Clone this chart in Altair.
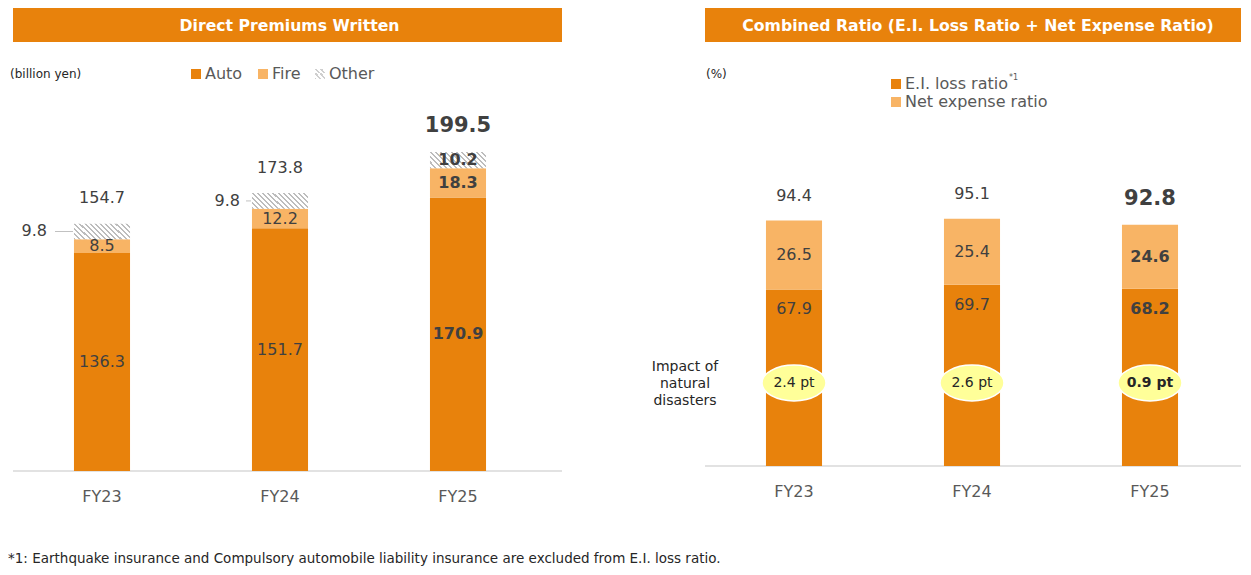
import altair as alt
import pandas as pd

# ---------------- data ----------------
years = ["FY23", "FY24", "FY25"]
auto = [136.3, 151.7, 170.9]
fire = [8.5, 12.2, 18.3]
other = [9.8, 9.8, 10.2]
dpw_total = [154.7, 173.8, 199.5]

ei_loss = [67.9, 69.7, 68.2]
net_expense = [26.5, 25.4, 24.6]
combined = [94.4, 95.1, 92.8]
disaster_impact = ["2.4 pt", "2.6 pt", "0.9 pt"]
is_latest = [False, False, True]

titles = ["Direct Premiums Written",
          "Combined Ratio (E.I. Loss Ratio + Net Expense Ratio)"]
units = ["(billion yen)", "(%)"]
dpw_legend = ["Auto", "Fire", "Other"]
cr_legend = ["E.I. loss ratio", "Net expense ratio"]
footnote = ("*1: Earthquake insurance and Compulsory automobile liability "
            "insurance are excluded from E.I. loss ratio.")
disaster_caption = "Impact of\nnatural\ndisasters"

# ---------------- style ----------------
ORANGE = "#E8820C"
LIGHT = "#F8B465"
YELLOW = "#FFFF99"
FONT = "DejaVu Sans"
TXT = "#404040"
GREY_TXT = "#595959"
AXIS_LINE = "#D9D9D9"

WL, HL = 549, 463
WR, HR = 536, 458


def hatch(ratio, n, color="#BDBDBD", duty=0.4):
    s = (1 + ratio) / (1 + ratio * ratio)
    x2, y2 = s, 1 - ratio * s
    stops = []
    for i in range(n):
        a = i / n
        b = (i + duty) / n
        c = (i + 1) / n
        stops += [alt.GradientStop(offset=round(a, 4), color=color),
                  alt.GradientStop(offset=round(b, 4), color=color),
                  alt.GradientStop(offset=round(b, 4), color="white"),
                  alt.GradientStop(offset=round(min(c, 1), 4), color="white")]
    return alt.LinearGradient(gradient="linear", stops=stops,
                              x1=0, y1=1, x2=round(x2, 4), y2=round(y2, 4))


def xband():
    return alt.X("year:N", sort=years,
                 scale=alt.Scale(range=[0, 534], paddingInner=0.685,
                                 paddingOuter=0.3425),
                 axis=alt.Axis(title=None, domain=False, ticks=False,
                               labelAngle=0, labelFont=FONT, labelFontSize=16,
                               labelColor=GREY_TXT, labelPadding=17,
                               grid=False))


def txt(**kw):
    base = dict(font=FONT, baseline="middle", align="center")
    base.update(kw)
    return base


# ---------------- left panel: Direct Premiums Written ----------------
rows = []
for i, yr in enumerate(years):
    a0, a1 = 0, auto[i]
    f1 = a1 + fire[i]
    o1 = f1 + other[i]
    rows.append(dict(year=yr, seg="Auto", y0=a0, y1=a1, mid=(a0 + a1) / 2,
                     label=f"{auto[i]:.1f}", latest=is_latest[i]))
    rows.append(dict(year=yr, seg="Fire", y0=a1, y1=f1, mid=(a1 + f1) / 2,
                     label=f"{fire[i]:.1f}", latest=is_latest[i]))
    rows.append(dict(year=yr, seg="Other", y0=f1, y1=o1, mid=(f1 + o1) / 2,
                     label=f"{other[i]:.1f}", latest=is_latest[i]))
dfL = pd.DataFrame(rows)
dfLT = pd.DataFrame(dict(year=years, total=dpw_total, latest=is_latest,
                         label=[f"{v:.1f}" for v in dpw_total]))

yL = alt.Scale(domain=[0, HL / 1.6], nice=False, zero=True)
xL = xband()

one = pd.DataFrame({"t": [titles[0]]})
hdrL = alt.Chart(one).mark_rect(color=ORANGE).encode(
    x=alt.value(0), x2=alt.value(WL), y=alt.value(0), y2=alt.value(34))
hdrLt = alt.Chart(one).mark_text(**txt(fontSize=15.7, fontWeight="bold",
                                       color="white")).encode(
    x=alt.value(276.5), y=alt.value(18), text="t:N")
unitL = alt.Chart(pd.DataFrame({"t": [units[0]]})).mark_text(
    **txt(fontSize=12, color="#262626", align="left")).encode(
    x=alt.value(-3), y=alt.value(66), text="t:N")
axL = alt.Chart(one).mark_rule(color=AXIS_LINE, strokeWidth=1.5).encode(
    x=alt.value(0), x2=alt.value(WL), y=alt.value(HL))

leg_x = [183, 250, 307]
leg_fill = [ORANGE, LIGHT, hatch(1.0, 4, "#CFCFCF")]
legL = []
for name, lx, lf in zip(dpw_legend, leg_x, leg_fill):
    d = pd.DataFrame({"t": [name]})
    legL.append(alt.Chart(d).mark_square(size=100, fill=lf, opacity=1,
                                         strokeWidth=0).encode(
        x=alt.value(lx), y=alt.value(66)))
    legL.append(alt.Chart(d).mark_text(**txt(fontSize=16, color=GREY_TXT,
                                             align="left")).encode(
        x=alt.value(lx + 9), y=alt.value(66), text="t:N"))

baseL = alt.Chart(dfL)
autoBar = baseL.transform_filter("datum.seg == 'Auto'").mark_bar(
    fill=ORANGE).encode(x=xL, y=alt.Y("y0:Q", scale=yL, axis=None), y2="y1:Q")
fireBar = baseL.transform_filter("datum.seg == 'Fire'").mark_bar(
    fill=LIGHT).encode(x=xL, y=alt.Y("y0:Q", scale=yL, axis=None), y2="y1:Q")
otherBar = baseL.transform_filter("datum.seg == 'Other'").mark_bar(
    fill=hatch(16 / 56, 14)).encode(
    x=xL, y=alt.Y("y0:Q", scale=yL, axis=None), y2="y1:Q")

inLab = baseL.transform_filter(
    "(datum.seg != 'Other') && !datum.latest").mark_text(
    **txt(fontSize=16, color=TXT)).encode(
    x=xL, y=alt.Y("mid:Q", scale=yL, axis=None), text="label:N")
inLabB = baseL.transform_filter("datum.latest").mark_text(
    **txt(fontSize=16, color=TXT, fontWeight="bold")).encode(
    x=xL, y=alt.Y("mid:Q", scale=yL, axis=None), text="label:N")
oth23 = baseL.transform_filter(
    "datum.seg == 'Other' && datum.year == 'FY23'").mark_text(
    **txt(fontSize=16, color=TXT, align="right", dx=-55)).encode(
    x=xL, y=alt.Y("mid:Q", scale=yL, axis=None), text="label:N")
oth24 = baseL.transform_filter(
    "datum.seg == 'Other' && datum.year == 'FY24'").mark_text(
    **txt(fontSize=16, color=TXT, align="right", dx=-40)).encode(
    x=xL, y=alt.Y("mid:Q", scale=yL, axis=None), text="label:N")
lead23 = baseL.transform_filter(
    "datum.seg == 'Other' && datum.year == 'FY23'").mark_tick(
    orient="horizontal", size=18, thickness=1, color="#A6A6A6",
    xOffset=-38).encode(x=xL, y=alt.Y("mid:Q", scale=yL, axis=None))
lead24 = baseL.transform_filter(
    "datum.seg == 'Other' && datum.year == 'FY24'").mark_tick(
    orient="horizontal", size=5, thickness=1, color="#A6A6A6",
    xOffset=-31.5).encode(x=xL, y=alt.Y("mid:Q", scale=yL, axis=None))

totL = alt.Chart(dfLT).transform_filter("!datum.latest").mark_text(
    **txt(fontSize=16, color=TXT, dy=-25)).encode(
    x=xL, y=alt.Y("total:Q", scale=yL, axis=None), text="label:N")
totLB = alt.Chart(dfLT).transform_filter("datum.latest").mark_text(
    **txt(fontSize=21, color=TXT, dy=-26, fontWeight="bold")).encode(
    x=xL, y=alt.Y("total:Q", scale=yL, axis=None), text="label:N")

foot = alt.Chart(pd.DataFrame({"t": [footnote]})).mark_text(
    font=FONT, fontSize=13.5, color="#262626", align="left",
    baseline="alphabetic").encode(x=alt.value(-5), y=alt.value(555),
                                  text="t:N")

left = alt.layer(hdrL, hdrLt, unitL, axL, *legL, autoBar, fireBar, otherBar,
                 inLab, inLabB, oth23, oth24, lead23, lead24, totL, totLB,
                 foot).properties(width=WL, height=HL)

# ---------------- right panel: Combined Ratio ----------------
rows = []
for i, yr in enumerate(years):
    e1 = ei_loss[i]
    n1 = e1 + net_expense[i]
    rows.append(dict(year=yr, seg="EI", y0=0, y1=e1, mid=e1 / 2,
                     label=f"{ei_loss[i]:.1f}", latest=is_latest[i]))
    rows.append(dict(year=yr, seg="Net", y0=e1, y1=n1, mid=(e1 + n1) / 2,
                     label=f"{net_expense[i]:.1f}", latest=is_latest[i]))
dfR = pd.DataFrame(rows)
dfRT = pd.DataFrame(dict(year=years, total=combined, latest=is_latest,
                         label=[f"{v:.1f}" for v in combined],
                         impact=disaster_impact))

yR = alt.Scale(domain=[0, HR / 2.6], nice=False, zero=True)
xR = xband()

oneR = pd.DataFrame({"t": [titles[1]]})
hdrR = alt.Chart(oneR).mark_rect(color=ORANGE).encode(
    x=alt.value(0), x2=alt.value(WR), y=alt.value(0), y2=alt.value(34))
hdrRt = alt.Chart(oneR).mark_text(**txt(fontSize=15.7, fontWeight="bold",
                                        color="white")).encode(
    x=alt.value(273), y=alt.value(18), text="t:N")
unitR = alt.Chart(pd.DataFrame({"t": [units[1]]})).mark_text(
    **txt(fontSize=12, color="#262626", align="left")).encode(
    x=alt.value(1), y=alt.value(66), text="t:N")
axR = alt.Chart(oneR).mark_rule(color=AXIS_LINE, strokeWidth=1.5).encode(
    x=alt.value(0), x2=alt.value(WR), y=alt.value(HR))

legR = []
for name, ly, lf in zip(cr_legend, [76, 94], [ORANGE, LIGHT]):
    d = pd.DataFrame({"t": [name]})
    legR.append(alt.Chart(d).mark_square(size=100, fill=lf, opacity=1,
                                         strokeWidth=0).encode(
        x=alt.value(191), y=alt.value(ly)))
    legR.append(alt.Chart(d).mark_text(**txt(fontSize=16, color=GREY_TXT,
                                             align="left")).encode(
        x=alt.value(200), y=alt.value(ly), text="t:N"))
sup = alt.Chart(pd.DataFrame({"t": ["*1"]})).mark_text(
    **txt(fontSize=8, color=GREY_TXT, align="left")).encode(
    x=alt.value(304), y=alt.value(70), text="t:N")

baseR = alt.Chart(dfR)
eiBar = baseR.transform_filter("datum.seg == 'EI'").mark_bar(
    fill=ORANGE).encode(x=xR, y=alt.Y("y0:Q", scale=yR, axis=None), y2="y1:Q")
netBar = baseR.transform_filter("datum.seg == 'Net'").mark_bar(
    fill=LIGHT).encode(x=xR, y=alt.Y("y0:Q", scale=yR, axis=None), y2="y1:Q")

eiLab = baseR.transform_filter("datum.seg == 'EI' && !datum.latest").mark_text(
    **txt(fontSize=16, color=TXT, dy=20)).encode(
    x=xR, y=alt.Y("y1:Q", scale=yR, axis=None), text="label:N")
eiLabB = baseR.transform_filter("datum.seg == 'EI' && datum.latest").mark_text(
    **txt(fontSize=16, color=TXT, dy=20, fontWeight="bold")).encode(
    x=xR, y=alt.Y("y1:Q", scale=yR, axis=None), text="label:N")
netLab = baseR.transform_filter(
    "datum.seg == 'Net' && !datum.latest").mark_text(
    **txt(fontSize=16, color=TXT)).encode(
    x=xR, y=alt.Y("mid:Q", scale=yR, axis=None), text="label:N")
netLabB = baseR.transform_filter(
    "datum.seg == 'Net' && datum.latest").mark_text(
    **txt(fontSize=16, color=TXT, fontWeight="bold")).encode(
    x=xR, y=alt.Y("mid:Q", scale=yR, axis=None), text="label:N")

totR = alt.Chart(dfRT).transform_filter("!datum.latest").mark_text(
    **txt(fontSize=16, color=TXT, dy=-25)).encode(
    x=xR, y=alt.Y("total:Q", scale=yR, axis=None), text="label:N")
totRB = alt.Chart(dfRT).transform_filter("datum.latest").mark_text(
    **txt(fontSize=21, color=TXT, dy=-26, fontWeight="bold")).encode(
    x=xR, y=alt.Y("total:Q", scale=yR, axis=None), text="label:N")

ELLIPSE = "M -1 0 A 1 0.56 0 1 1 1 0 A 1 0.56 0 1 1 -1 0 Z"
badge = alt.Chart(dfRT).mark_point(shape=ELLIPSE, size=4096, filled=True,
                                   fill=YELLOW, stroke="white",
                                   strokeWidth=1.5, opacity=1).encode(
    x=xR, y=alt.value(375))
badgeT = alt.Chart(dfRT).transform_filter("!datum.latest").mark_text(
    **txt(fontSize=14, color="#262626")).encode(
    x=xR, y=alt.value(375), text="impact:N")
badgeTB = alt.Chart(dfRT).transform_filter("datum.latest").mark_text(
    **txt(fontSize=14, color="#262626", fontWeight="bold")).encode(
    x=xR, y=alt.value(375), text="impact:N")
caption = alt.Chart(pd.DataFrame({"t": [disaster_caption]})).mark_text(
    **txt(fontSize=14, color="#262626", lineBreak="\n",
          lineHeight=17)).encode(x=alt.value(-20), y=alt.value(359),
                                 text="t:N")

right = alt.layer(hdrR, hdrRt, unitR, axR, *legR, sup, eiBar, netBar,
                  eiLab, eiLabB, netLab, netLabB, totR, totRB, badge, badgeT,
                  badgeTB, caption).properties(width=WR, height=HR)

chart = alt.hconcat(left, right, spacing=143, bounds="flush").properties(
    padding=0).configure_view(stroke=None)

chart.save("out.html", embed_options={"renderer": "svg", "actions": False})
